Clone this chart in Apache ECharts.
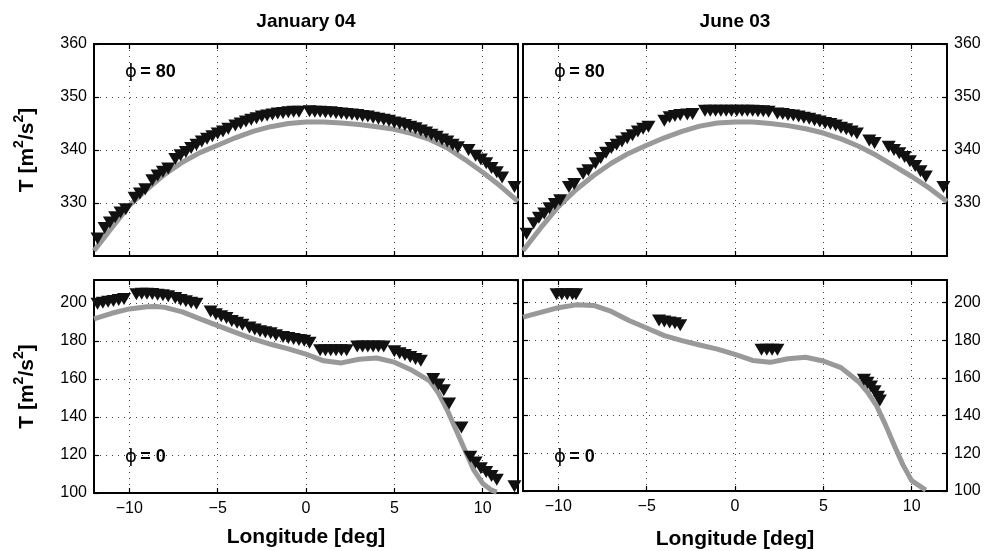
<!DOCTYPE html>
<html>
<head>
<meta charset="utf-8">
<script src="https://cdn.jsdelivr.net/npm/echarts@6/dist/echarts.min.js"></script>
<style>
html, body { margin: 0; padding: 0; background: #fff; }
#chart { width: 985px; height: 551px; }
</style>
</head>
<body>
<div id="chart"></div>
<script>
// tick positions
var lonTicks = [-10, -5, 0, 5, 10];

// modelled T (grey line), [longitude, T]
var janTopModel = [[-12,321],[-11,325.3],[-10,329.5],[-9,332.6],[-8,335.4],[-7,337.7],[-6,339.5],[-5,340.9],[-4,342.3],[-3,343.5],[-2,344.4],[-1,345.0],[0,345.3],[1,345.3],[2,345.1],[3,344.8],[4,344.4],[5,343.9],[6,343.1],[7,342.0],[8,340.4],[9,338.2],[10,335.8],[11,333.2],[12,330.3]];
var junTopModel = [[-12,321],[-11,325.3],[-10,329.3],[-9,332.5],[-8,335.2],[-7,337.5],[-6,339.4],[-5,340.9],[-4,342.3],[-3,343.5],[-2,344.5],[-1,345.1],[0,345.3],[1,345.3],[2,345.0],[3,344.6],[4,344.0],[5,343.2],[6,342.1],[7,340.7],[8,339.0],[9,337.0],[10,335.0],[11,332.8],[12,330.3]];
var janBotModel = [[-12,191.5],[-11,194.5],[-10,196.8],[-9,197.9],[-8.5,198.1],[-8,197.6],[-7,195.2],[-6,191.6],[-5,188],[-4,184.5],[-3,181],[-2,178.2],[-1,175.8],[0,173],[1,169.5],[2,168.4],[3,170.3],[4,171],[5,168.8],[6,164.5],[7,159],[7.5,152.5],[8,143.5],[8.5,133],[9,122.5],[9.5,112],[10,105],[10.5,101.5],[10.8,100.5]];
var junBotModel = [[-12,192.3],[-11,194.8],[-10,197.3],[-9,198.8],[-8,198.5],[-7,195.3],[-6,190.5],[-5,186.5],[-4,182.5],[-3,179.8],[-2,177.5],[-1,175.3],[0,172.5],[1,169.3],[2,168.3],[3,170.2],[4,171],[5,169],[6,165.5],[7,158],[7.5,152.5],[8,145.5],[8.5,135.5],[9,124.5],[9.5,114],[10,105.5],[10.8,100.5]];

// observed T (black triangles), [longitude, T]
var janTopObs = [[-11.8,323.3],[-11.4,325.3],[-11.1,326.3],[-10.8,327.3],[-10.5,328.2],[-10.2,328.8],
  [-9.7,331.0],[-9.4,331.8],[-9.1,332.6],
  [-8.7,334.3],[-8.4,335.2],[-8.1,335.9],[-7.8,336.5],
  [-7.4,338.3],[-7.1,339.0],[-6.8,339.6],[-6.5,340.4],[-6.2,341.0],[-5.9,341.6],[-5.6,342.1],[-5.3,342.6],[-5.0,343.1],[-4.7,343.5],[-4.4,344.0],
  [-4.0,344.6],[-3.7,345.0],[-3.4,345.4],[-3.1,345.7],[-2.8,346.0],[-2.5,346.3],[-2.2,346.5],[-1.9,346.7],[-1.6,346.9],[-1.3,347.0],[-1.0,347.1],[-0.7,347.2],[-0.4,347.2],
  [0.2,347.3],[0.5,347.2],[0.8,347.2],[1.1,347.1],[1.4,347.1],[1.7,347.0],[2.0,346.9],[2.3,346.8],[2.6,346.7],[2.9,346.6],[3.2,346.4],[3.5,346.3],[3.8,346.1],[4.1,345.9],[4.4,345.7],[4.7,345.5],[5.0,345.2],[5.3,345.0],[5.6,344.7],[5.9,344.4],[6.2,344.1],[6.5,343.7],[6.8,343.3],[7.1,342.9],[7.4,342.5],[7.7,342.0],[8.0,341.6],[8.3,341.0],[8.6,340.5],
  [9.2,340.0],
  [9.6,338.9],[9.9,338.2],[10.2,337.5],[10.5,336.6],[10.8,335.8],[11.1,334.8],
  [11.8,333.0]];
var junTopObs = [[-11.8,324.2],[-11.4,326.2],[-11.1,327.2],[-10.8,328.0],[-10.5,329.0],[-10.2,329.8],[-9.9,330.5],
  [-9.4,333.0],[-9.1,333.6],
  [-8.6,335.5],[-8.3,336.2],
  [-7.9,337.5],[-7.6,338.5],[-7.3,339.5],[-7.0,340.4],[-6.7,341.0],[-6.4,341.6],[-6.1,342.2],[-5.8,342.8],[-5.5,343.5],[-5.2,344.0],[-4.9,344.4],
  [-4.0,345.5],[-3.7,346.2],[-3.4,346.4],[-3.1,346.6],[-2.7,346.7],[-2.4,346.8],
  [-1.7,347.4],[-1.4,347.4],[-1.1,347.4],[-0.8,347.4],[-0.5,347.4],[-0.2,347.4],[0.1,347.4],[0.4,347.4],[0.7,347.4],[1.0,347.4],[1.3,347.3],[1.6,347.3],[1.9,347.2],
  [2.4,346.9],[2.7,346.8],[3.0,346.6],[3.3,346.5],[3.6,346.3],[3.9,346.1],[4.2,345.9],[4.5,345.6],[4.8,345.4],[5.1,345.1],[5.4,344.9],[5.7,344.6],[6.0,344.2],[6.3,343.9],[6.6,343.5],[6.9,343.1],
  [7.6,341.8],[7.9,341.3],
  [8.7,340.6],[9.0,340.0],[9.3,339.4],[9.6,338.7],[9.9,337.9],[10.2,337.0],[10.5,336.0],[10.8,335.0],
  [11.8,333.0]];
var janBotObs = [[-11.8,199.5],[-11.5,200],[-11.2,200.5],[-10.9,201],[-10.6,201.5],[-10.3,202],
  [-9.6,204.5],[-9.3,204.8],[-9.0,204.8],[-8.7,204.6],[-8.4,204.3],[-8.1,204],[-7.8,203.5],
  [-7.4,202.5],[-7.1,201.5],[-6.8,200.8],[-6.5,200],[-6.2,199.5],
  [-5.4,195.5],[-5.1,194],[-4.8,193],[-4.5,192],[-4.2,190.5],[-3.9,189.5],[-3.6,188.5],
  [-3.2,187],[-2.9,186],[-2.6,185],[-2.3,184.5],[-2.0,184],[-1.7,183],
  [-1.3,182],[-1.0,181.5],[-0.7,181],[-0.4,180.5],[-0.1,180],[0.2,179],
  [0.8,175],[1.1,175],[1.4,175],[1.7,175],[2.0,175],[2.3,175],
  [2.9,177],[3.2,177],[3.5,177],[3.8,177],[4.1,177],[4.4,177],
  [5.0,174.5],[5.3,173.5],[5.6,172.5],[5.9,171.5],[6.2,170.5],[6.5,169.5],
  [7.2,160],[7.5,157],[7.8,154],
  [8.1,147],
  [8.8,134.5],
  [9.3,119],[9.6,116],[9.9,113],
  [10.2,111],[10.5,109],[10.8,107],
  [11.8,103.5]];
var junBotObs = [[-10.1,204.5],[-9.8,204.5],[-9.5,204.5],[-9.2,204.5],[-9.0,204.5],
  [-4.3,190.5],[-4.0,190],[-3.7,189.5],[-3.4,189],[-3.1,188],
  [1.5,175],[1.8,175],[2.1,175],[2.4,175],
  [7.3,159],[7.5,157.5],[7.7,155.5],[7.9,153],[8.1,150],[8.2,148]];

var FONT = '"Liberation Sans", Arial, sans-serif';

var chart = echarts.init(document.getElementById('chart'));

var grids = [
  { left: 94, top: 44, width: 424, height: 212 },
  { left: 523, top: 44, width: 424, height: 212 },
  { left: 94, top: 280, width: 424, height: 213 },
  { left: 523, top: 280, width: 424, height: 213 }
];

var dotted = { show: true, lineStyle: { color: '#444', width: 1, type: [1, 5] } };
var edge = { show: true, onZero: false, lineStyle: { color: '#000', width: 2 } };
var tick = { show: true, inside: true, length: 5, lineStyle: { color: '#000', width: 1.2 } };

function fmt(v) {
  return String(v).replace('-', '\u2212');
}

function makeX(g, labels, nameGap) {
  return [{
    type: 'value', gridIndex: g, position: 'bottom', min: -12, max: 12,
    axisLine: edge,
    axisTick: { show: true, inside: true, length: 5, lineStyle: tick.lineStyle, customValues: lonTicks },
    axisLabel: { show: labels, customValues: lonTicks, formatter: fmt, fontSize: 16, color: '#000', fontFamily: FONT, margin: 8 },
    splitLine: dotted,
    name: labels ? 'Longitude [deg]' : '',
    nameLocation: 'middle', nameGap: nameGap,
    nameTextStyle: { fontSize: 21, fontWeight: 'bold', color: '#000', fontFamily: FONT }
  }, {
    type: 'value', gridIndex: g, position: 'top', min: -12, max: 12,
    axisLine: edge,
    axisTick: { show: true, inside: true, length: 5, lineStyle: tick.lineStyle, customValues: lonTicks },
    axisLabel: { show: false },
    splitLine: { show: false }
  }];
}

// superscripts via rich text
var yName = '{b|T [m}{s|2}{b|/s}{s|2}{b|]}';
var yNameStyle = {
  color: '#000',
  rich: {
    b: { fontSize: 21, fontWeight: 'bold', fontFamily: FONT, color: '#000', lineHeight: 30, verticalAlign: 'middle' },
    s: { fontSize: 14, fontWeight: 'bold', fontFamily: FONT, color: '#000', lineHeight: 30, verticalAlign: 'top' }
  }
};

function makeY(g, side, min, max, step, top) {
  var labelled = {
    type: 'value', gridIndex: g, position: side, min: min, max: max, interval: step,
    axisLine: edge, axisTick: tick,
    axisLabel: { fontSize: 16, color: '#000', fontFamily: FONT, margin: 7, showMinLabel: !top, showMaxLabel: top },
    splitLine: dotted
  };
  if (side === 'left') {
    labelled.name = yName;
    labelled.nameLocation = 'middle';
    labelled.nameRotate = 90;
    labelled.nameGap = 52;
    labelled.nameTextStyle = yNameStyle;
  }
  var plain = {
    type: 'value', gridIndex: g, position: side === 'left' ? 'right' : 'left', min: min, max: max, interval: step,
    axisLine: edge, axisTick: tick, axisLabel: { show: false }, splitLine: { show: false }
  };
  return [labelled, plain];
}

var xAxes = [].concat(makeX(0, false, 0), makeX(1, false, 0), makeX(2, true, 34), makeX(3, true, 38));
var yAxes = [].concat(makeY(0, 'left', 320, 360, 10, true), makeY(1, 'right', 320, 360, 10, true),
  makeY(2, 'left', 100, 212, 20, false), makeY(3, 'right', 100, 212, 20, false));

function model(data, i) {
  return {
    type: 'line', data: data, xAxisIndex: i * 2, yAxisIndex: i * 2,
    showSymbol: false, symbol: 'none', smooth: false, z: 2,
    lineStyle: { color: '#999', width: 5 }
  };
}
function obs(data, i) {
  return {
    type: 'scatter', data: data, xAxisIndex: i * 2, yAxisIndex: i * 2,
    symbol: 'triangle', symbolRotate: 180, symbolSize: [14, 12], z: 3, clip: false,
    itemStyle: { color: '#111', opacity: 1 }
  };
}

function phi(x, y, val) {
  return {
    type: 'text', x: x, y: y,
    style: {
      text: '{p|\u03D5} {b|= ' + val + '}',
      verticalAlign: 'middle',
      rich: {
        p: { fontSize: 18, fontFamily: '"DejaVu Sans", sans-serif', fill: '#000' },
        b: { fontSize: 18, fontWeight: 'bold', fontFamily: FONT, fill: '#000' }
      }
    }
  };
}

var option = {
  backgroundColor: '#fff',
  animation: false,
  grid: grids,
  xAxis: xAxes,
  yAxis: yAxes,
  graphic: [
    { type: 'text', x: 306, y: 22, style: { text: 'January 04', align: 'center', verticalAlign: 'middle', fontSize: 19, fontWeight: 'bold', fontFamily: FONT, fill: '#000' } },
    { type: 'text', x: 735, y: 22, style: { text: 'June 03', align: 'center', verticalAlign: 'middle', fontSize: 19, fontWeight: 'bold', fontFamily: FONT, fill: '#000' } },
    phi(125, 72, '80'), phi(554, 72, '80'), phi(125, 457, '0'), phi(554, 457, '0')
  ],
  series: [
    model(janTopModel, 0), obs(janTopObs, 0),
    model(junTopModel, 1), obs(junTopObs, 1),
    model(janBotModel, 2), obs(janBotObs, 2),
    model(junBotModel, 3), obs(junBotObs, 3)
  ]
};

chart.setOption(option);
</script>
</body>
</html>
